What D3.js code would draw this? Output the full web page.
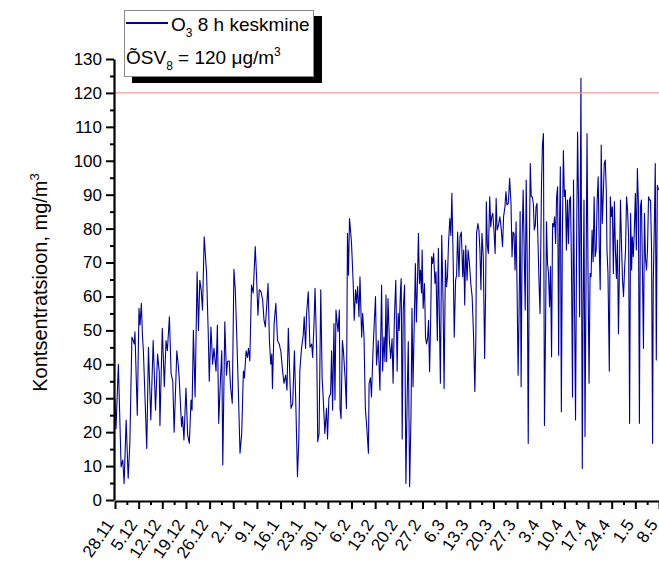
<!DOCTYPE html>
<html>
<head>
<meta charset="utf-8">
<script src="https://cdn.jsdelivr.net/npm/d3@7"></script>
<style>
  html, body { margin: 0; padding: 0; background: #fff; }
  svg { display: block; font-family: "Liberation Sans", Arial, sans-serif; }
</style>
</head>
<body>
<svg id="chart" width="659" height="567"></svg>
<script>
// Week start labels along the time axis (28 Nov to 8 May)
const weekLabels = ["28.11","5.12","12.12","19.12","26.12","2.1","9.1","16.1","23.1","30.1",
  "6.2","13.2","20.2","27.2","6.3","13.3","20.3","27.3","3.4","10.4","17.4","24.4","1.5","8.5"];

// Y axis tick values
const yMajor = [0,10,20,30,40,50,60,70,80,90,100,110,120,130];

// Limit value (ÕSV8)
const limitValue = 120;

// Measurement time, days since 28.11
const days = [
  0.0,0.3,1.0,1.8,2.3,2.7,3.3,3.9,4.4,5.0,5.4,5.7,5.9,6.6,7.1,7.4,7.8,8.1,8.4,9.4,
  9.9,10.6,11.3,12.0,12.6,13.1,13.3,14.0,14.6,15.1,15.5,16.1,16.6,17.1,17.5,18.3,18.7,19.0,19.7,20.0,
  20.4,21.0,21.5,22.0,22.5,22.8,23.2,23.7,24.3,24.7,25.1,25.5,25.9,26.4,27.1,27.6,27.9,28.4,28.9,29.3,
  29.9,30.3,30.7,31.1,31.6,31.9,32.5,33.0,33.3,33.8,34.2,34.7,35.2,35.6,36.0,36.5,37.0,37.5,38.0,38.3,
  38.8,39.2,39.5,39.9,40.4,40.9,41.5,41.9,42.3,42.7,43.2,43.7,44.1,44.5,45.3,45.7,46.1,46.4,46.6,47.1,
  47.6,48.1,48.6,49.1,49.6,50.0,50.5,50.9,51.3,51.8,52.1,52.6,53.1,53.5,54.0,54.4,54.7,55.2,55.7,56.0,
  56.4,56.7,57.2,57.7,58.2,58.5,58.9,59.2,59.7,60.0,60.4,60.9,61.3,61.6,62.1,62.6,62.9,63.3,63.8,64.1,
  64.4,64.8,65.1,65.4,66.0,66.4,66.6,66.9,67.3,67.6,68.1,68.5,68.8,69.1,69.4,69.7,70.0,70.5,70.8,71.2,
  71.5,71.8,72.2,72.5,73.0,73.3,73.7,74.1,74.5,75.0,75.2,75.6,75.9,76.4,76.7,77.1,77.4,77.9,
  78.4,78.9,79.2,79.6,79.9,80.2,80.4,80.8,81.2,81.6,82.0,82.3,82.7,83.1,83.5,83.8,84.1,84.5,84.7,85.0,
  85.3,85.7,86.1,86.5,86.8,87.2,87.6,87.9,88.2,88.6,88.9,89.2,89.5,89.8,90.1,90.4,90.7,90.9,91.2,91.6,
  91.9,92.2,92.5,92.8,93.1,93.4,93.7,94.0,94.3,94.7,95.0,95.4,95.7,96.0,96.3,96.7,97.1,97.4,97.8,98.1,
  98.4,98.7,99.1,99.4,99.7,100.1,100.4,100.8,101.1,101.4,101.8,102.1,102.5,102.9,103.2,103.5,103.8,104.2,104.5,104.9,
  105.3,105.7,106.1,106.5,106.8,107.0,107.4,107.7,108.0,108.3,108.6,109.0,109.4,109.7,109.9,110.2,110.5,110.9,111.2,111.5,
  111.8,112.1,112.5,112.8,113.1,113.5,113.9,114.3,114.7,115.0,115.4,115.7,116.0,116.4,116.8,117.2,117.5,117.8,118.1,118.4,
  118.7,119.0,119.3,119.6,119.9,120.2,120.5,120.8,121.1,121.4,121.7,122.0,122.3,122.6,122.9,123.2,123.5,123.8,124.1,124.4,
  124.6,124.9,125.2,125.5,125.8,126.2,126.5,126.8,127.1,127.4,127.7,128.0,128.3,128.6,128.9,129.2,129.5,129.8,130.1,130.4,
  130.7,131.0,131.3,131.5,131.8,132.1,132.4,132.7,133.0,133.3,133.6,133.9,134.2,134.5,134.8,135.1,135.4,135.7,136.0,136.3,
  136.6,136.9,137.2,137.5,137.7,137.9,138.1,138.3,138.5,138.8,139.1,139.4,139.7,140.0,140.3,140.6,140.9,141.2,141.5,141.8,
  142.1,142.4,142.7,143.0,143.3,143.6,143.9,144.2,144.5,144.8,145.1,145.4,145.6,145.9,146.3,146.6,146.9,147.2,147.5,147.8,
  148.1,148.4,148.7,149.0,149.3,149.6,149.9,150.2,150.5,150.8,151.1,151.4,151.7,152.0,152.3,152.6,152.9,153.1,153.4,153.7,
  154.0,154.3,154.6,154.9,155.2,155.5,155.8,156.1,156.4,156.7,157.0,157.3,157.6,157.9,158.2,158.5,158.8,159.1,159.3,159.6,
  159.9,160.2,160.5,160.9
];

// O3 8-hour mean concentration
const o3 = [
  30,21,40,9.8,11.8,4.9,23.6,6.4,16.7,48,47,46,49.6,25,56.5,51.6,58,49,44,15.2,
  45,23.6,47,26.5,43,37.8,22,50.6,33.4,47,44,54,37.3,35,20,44,40,36,21.6,24.6,
  17.7,33,19.2,16.7,29.5,26.5,50,30.4,67.3,50,64.8,62,56,77.6,66.8,49,35,51,40,44.7,
  38,51.6,22.6,33,44,10.3,52.5,36.8,40.8,41,33.4,28.5,68,62,49.6,32.4,13.8,19.6,38,36,
  44,42,44.7,41,63.4,61,74.7,65.8,54.5,62,61.4,59,53,51,63.8,47,40,43,32.9,52,
  58,47,46,43.7,38,34.4,36.8,32.4,50.6,34.4,27,28.5,44,29,6.9,17.7,38,44.7,48.6,54,
  44.7,55,61.4,45,46,42,52,62.4,43.7,17.2,19.6,62,36,30.4,19.6,27,18,30,31.4,44,
  26.5,52,29.5,56,49.6,56,27,24,47,44,36,27,78.6,66.3,83,79.6,75.6,63.8,53,62,
  58,62.9,54,65.8,48,55,48,27,21.6,13.8,34.4,36,30.4,45,51.6,60,39.8,47,
  32.4,63.4,38,48,40.8,60.4,40.8,59.4,47,41.7,47.6,34.4,54,64.8,38,55,50,62,65.3,18,
  56,63.4,4.9,32,46.7,3.9,24.6,56.5,33.4,54,69.7,52.5,63.8,78.6,63.8,67.8,61,73.7,56.5,63.8,
  48,46,47.6,53,37.8,52,71.7,69.7,72.7,63.8,67.3,47,74.2,54,34.4,78,58,32.9,70.7,62.9,
  65.8,75.6,83,78,90.4,69.7,48,64.8,66.3,79,65.8,77.6,79,65.8,73.7,57.5,75,64.8,73.7,69.7,
  63.8,60,49,32,48,78.6,81.5,79.6,73.7,62,78.6,71.7,41.7,62,87.9,75,72.7,89.4,80.5,83.5,
  84.5,80.5,72.7,88.9,79.6,81,83.5,80,74.7,83.5,86.4,90.9,87,87.4,94.8,87.4,71.7,79,78.6,67.8,
  82,62,36.8,56,85,33.4,77.6,91.4,73.7,56,94.3,70.7,16.7,69.7,99.2,89.4,89.4,87.4,79.6,81,
  86.4,87.4,75.6,63.8,55,91.4,104.6,108,22,48,82,69.7,66.8,57,68.8,42.2,81.5,80.5,83.5,75.6,
  89.4,92.3,42.7,75.6,98.2,26,77.6,103,89.4,91.4,73.7,88.4,75.6,88.4,89.4,68.8,30.4,94.3,57,23.6,
  73.7,108.5,87.4,54,86.4,124.3,63.8,9.3,52,88.4,18.7,63.8,108,65.8,34.4,66.8,65.8,79.6,70.2,89.4,
  71.7,73.7,88.4,95.3,75.6,62,104.6,81.5,89.4,99.2,100.2,91.4,73.7,66.8,38,89.4,83.5,86.4,66.8,88,
  73.7,65.3,76.6,49,68.8,88.4,75.6,64.8,60,67.8,73.7,89.4,85.5,77.6,22.6,84.5,67.8,77.6,71.7,79.6,
  90.4,73.7,97.7,87.4,22.6,86.4,88.4,67.8,44.7,84.5,71.2,67.8,73.7,89.4,88.4,88.4,73.7,16.7,63.8,79.6,
  99.2,41.3,92.8,91.4
];

const svg = d3.select("#chart");

const x = d3.scaleLinear().domain([0, 161]).range([115, 659]);
const y = d3.scaleLinear().domain([0, 130]).range([500, 59]);

const tickFont = 17;

// Data line
const series = days.map((d, i) => ({ t: d, v: o3[i] }));
const line = d3.line().x(d => x(d.t)).y(d => y(d.v));

svg.append("path")
  .datum(series)
  .attr("fill", "none")
  .attr("stroke", "#00009c")
  .attr("stroke-width", 1.1)
  .attr("stroke-linejoin", "round")
  .attr("d", line);

// Limit value line
svg.append("line")
  .attr("x1", x(0)).attr("x2", x(161))
  .attr("y1", y(limitValue)).attr("y2", y(limitValue))
  .attr("stroke", "#f39a9a")
  .attr("stroke-width", 1.4);

// Y axis: minor ticks, then major ticks with labels
const yMinor = d3.range(5, 130, 10);
svg.append("g")
  .attr("transform", `translate(${x(0) - 1},0)`)
  .call(d3.axisLeft(y).tickValues(yMinor).tickSize(4).tickFormat(""))
  .call(g => g.select(".domain").remove())
  .call(g => g.selectAll("line").attr("stroke", "#000").attr("stroke-width", 2));

const yAxis = svg.append("g")
  .attr("transform", `translate(${x(0) - 1},0)`)
  .call(d3.axisLeft(y).tickValues(yMajor).tickSize(8).tickSizeOuter(0).tickPadding(4));
yAxis.select(".domain").attr("stroke", "#000").attr("stroke-width", 2.2);
yAxis.selectAll("line").attr("stroke", "#000").attr("stroke-width", 2);
yAxis.selectAll("text")
  .attr("fill", "#000")
  .style("font-size", tickFont + "px")
  .style("font-family", "Liberation Sans, Arial, sans-serif");

// X axis
const weekDays = weekLabels.map((_, i) => i * 7);
const halfWeeks = d3.range(3.5, 161, 7);

svg.append("g")
  .attr("transform", `translate(0,${y(0) + 1})`)
  .call(d3.axisBottom(x).tickValues(halfWeeks).tickSize(4).tickFormat(""))
  .call(g => g.select(".domain").remove())
  .call(g => g.selectAll("line").attr("stroke", "#000").attr("stroke-width", 2));

const xAxis = svg.append("g")
  .attr("transform", `translate(0,${y(0) + 1})`)
  .call(d3.axisBottom(x).tickValues(weekDays).tickSize(8).tickSizeOuter(0)
    .tickFormat((d, i) => weekLabels[i]));
xAxis.select(".domain").attr("stroke", "#000").attr("stroke-width", 2.2);
xAxis.selectAll("line").attr("stroke", "#000").attr("stroke-width", 2);
xAxis.selectAll("text")
  .attr("fill", "#000")
  .style("font-size", tickFont + "px")
  .style("font-family", "Liberation Sans, Arial, sans-serif")
  .attr("text-anchor", "end")
  .attr("dy", "0.35em")
  .attr("y", 0)
  .attr("transform", "translate(-6,20) rotate(-56)");

// Y axis title
const yTitle = svg.append("text")
  .attr("transform", `translate(47,${(y(0) + y(130)) / 2 + 3}) rotate(-90)`)
  .attr("text-anchor", "middle")
  .style("font-size", "20px")
  .attr("fill", "#000");
yTitle.append("tspan").text("Kontsentratsioon, mg/m");
yTitle.append("tspan").attr("dy", -8).style("font-size", "13px").text("3");

// Legend box with drop shadow
const lg = svg.append("g");
lg.append("rect").attr("x", 132).attr("y", 16).attr("width", 190).attr("height", 67).attr("fill", "#000");
lg.append("rect").attr("x", 124.5).attr("y", 10.5).attr("width", 189).attr("height", 66)
  .attr("fill", "#fff").attr("stroke", "#8a8a8a").attr("stroke-width", 1);

lg.append("line").attr("x1", 126).attr("x2", 168).attr("y1", 23).attr("y2", 23)
  .attr("stroke", "#00009c").attr("stroke-width", 2);

const t1 = lg.append("text").attr("x", 171).attr("y", 30.5).style("font-size", "19px").attr("fill", "#000");
t1.append("tspan").text("O");
t1.append("tspan").attr("dy", 6).style("font-size", "12px").text("3");
t1.append("tspan").attr("dy", -6).text(" 8 h keskmine");

const t2 = lg.append("text").attr("x", 126).attr("y", 63.5).style("font-size", "19px").attr("fill", "#000");
t2.append("tspan").text("ÕSV");
t2.append("tspan").attr("dy", 6).style("font-size", "12px").text("8");
t2.append("tspan").attr("dy", -6).text(" = 120 μg/m");
t2.append("tspan").attr("dy", -8).style("font-size", "12px").text("3");
</script>
</body>
</html>
